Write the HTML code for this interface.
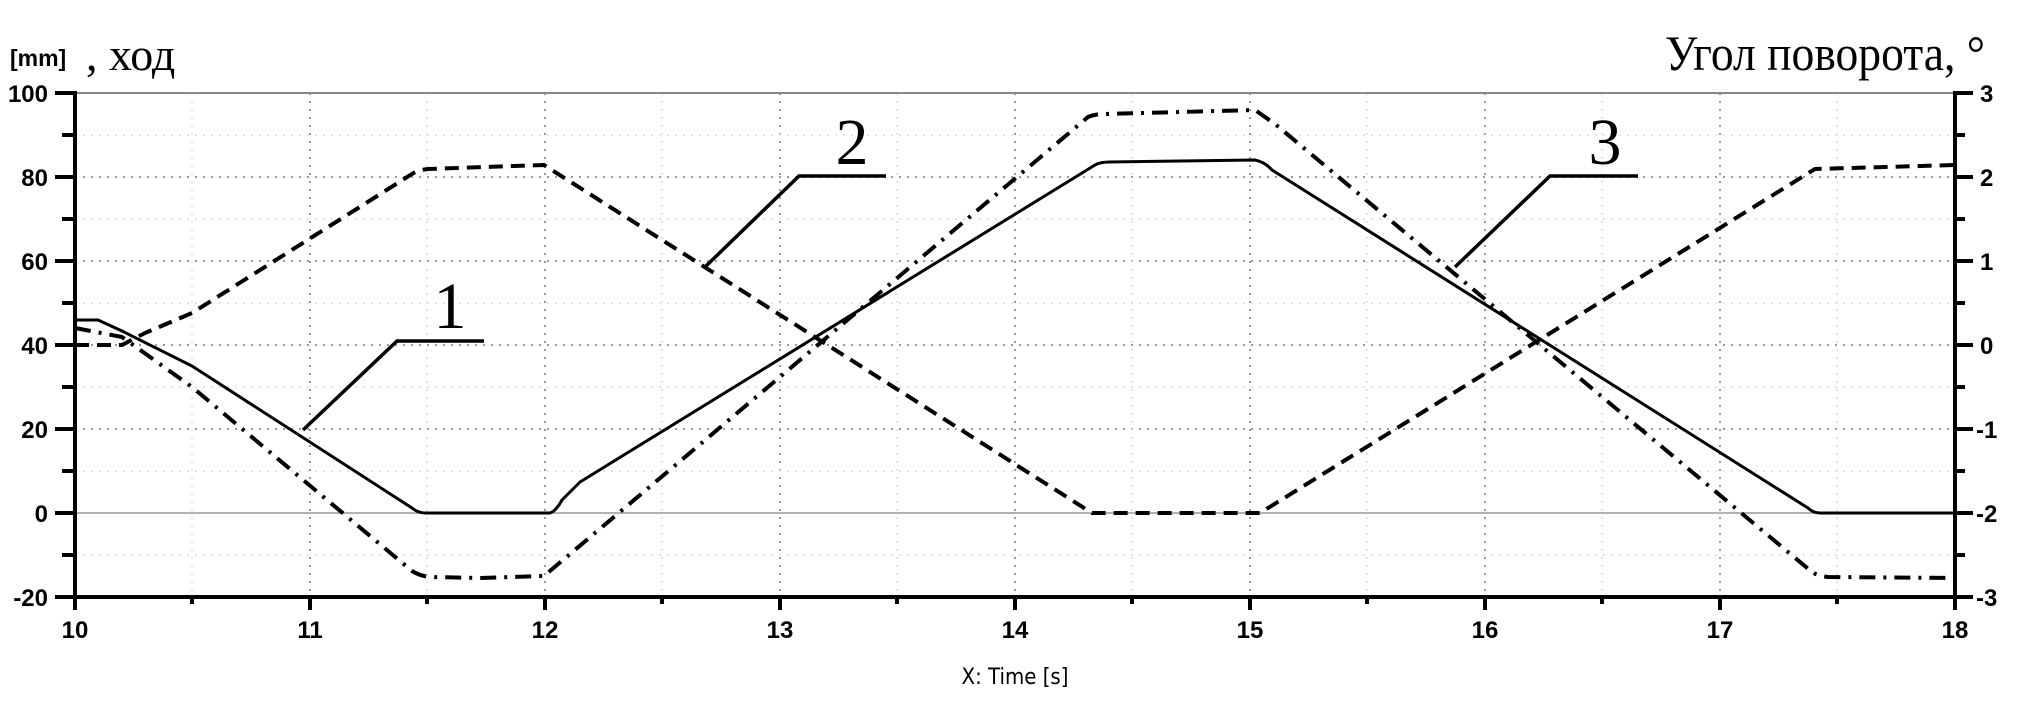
<!DOCTYPE html>
<html><head><meta charset="utf-8"><style>html,body{margin:0;padding:0;background:#fff;}svg{display:block}</style></head>
<body>
<svg width="2020" height="702" xmlns="http://www.w3.org/2000/svg">
<g stroke="#999" stroke-width="2" stroke-dasharray="2,6">
<line x1="75" y1="177" x2="1955" y2="177"/><line x1="75" y1="261" x2="1955" y2="261"/><line x1="75" y1="345" x2="1955" y2="345"/><line x1="75" y1="429" x2="1955" y2="429"/>
<line x1="310" y1="93" x2="310" y2="597"/><line x1="545" y1="93" x2="545" y2="597"/><line x1="780" y1="93" x2="780" y2="597"/><line x1="1015" y1="93" x2="1015" y2="597"/><line x1="1250" y1="93" x2="1250" y2="597"/><line x1="1485" y1="93" x2="1485" y2="597"/><line x1="1720" y1="93" x2="1720" y2="597"/>
</g>
<g stroke="#e4e4e4" stroke-width="2" stroke-dasharray="2,6">
<line x1="75" y1="135" x2="1955" y2="135"/><line x1="75" y1="219" x2="1955" y2="219"/><line x1="75" y1="303" x2="1955" y2="303"/><line x1="75" y1="387" x2="1955" y2="387"/><line x1="75" y1="471" x2="1955" y2="471"/><line x1="75" y1="555" x2="1955" y2="555"/>
<line x1="192" y1="93" x2="192" y2="597"/><line x1="427" y1="93" x2="427" y2="597"/><line x1="662" y1="93" x2="662" y2="597"/><line x1="897" y1="93" x2="897" y2="597"/><line x1="1132" y1="93" x2="1132" y2="597"/><line x1="1367" y1="93" x2="1367" y2="597"/><line x1="1602" y1="93" x2="1602" y2="597"/><line x1="1837" y1="93" x2="1837" y2="597"/>
</g>
<line x1="75" y1="93" x2="1955" y2="93" stroke="#888" stroke-width="2"/>
<line x1="75" y1="513" x2="1955" y2="513" stroke="#999" stroke-width="1.5"/>
<g stroke="#000" stroke-width="4" fill="none">
<line x1="75" y1="91" x2="75" y2="599"/><line x1="1955" y1="91" x2="1955" y2="610"/><line x1="73" y1="597" x2="1957" y2="597"/>
<path d="M55 93H75M62 135H75M55 177H75M62 219H75M55 261H75M62 303H75M55 345H75M62 387H75M55 429H75M62 471H75M55 513H75M62 555H75M55 597H75"/>
<path d="M1955 93H1973M1955 135H1965M1955 177H1973M1955 219H1965M1955 261H1973M1955 303H1965M1955 345H1973M1955 387H1965M1955 429H1973M1955 471H1965M1955 513H1973M1955 555H1965M1955 597H1973"/>
<path d="M75 597V610M192 597V604M310 597V610M427 597V604M545 597V610M662 597V604M780 597V610M897 597V604M1015 597V610M1132 597V604M1250 597V610M1367 597V604M1485 597V610M1602 597V604M1720 597V610M1837 597V604"/>
</g>
<g font-family="Liberation Sans, sans-serif" font-weight="bold" font-size="24" fill="#000">
<g text-anchor="end"><text x="48" y="102">100</text><text x="48" y="186">80</text><text x="48" y="270">60</text><text x="48" y="354">40</text><text x="48" y="438">20</text><text x="48" y="522">0</text><text x="48" y="606">-20</text></g>
<g text-anchor="start"><text x="1980" y="102">3</text><text x="1980" y="186">2</text><text x="1980" y="270">1</text><text x="1980" y="354">0</text><text x="1976" y="438">-1</text><text x="1976" y="522">-2</text><text x="1976" y="606">-3</text></g>
<g text-anchor="middle"><text x="75" y="638">10</text><text x="310" y="638">11</text><text x="545" y="638">12</text><text x="780" y="638">13</text><text x="1015" y="638">14</text><text x="1250" y="638">15</text><text x="1485" y="638">16</text><text x="1720" y="638">17</text><text x="1955" y="638">18</text></g>
<text x="10" y="66" font-size="23">[mm]</text>
</g>
<text x="1015" y="684" text-anchor="middle" font-family="DejaVu Sans Condensed, Liberation Sans, sans-serif" font-size="22">X: Time [s]</text>
<text x="86" y="70" font-family="Liberation Serif, serif" font-size="46">, ход</text>
<text x="1665" y="70" font-family="Liberation Serif, serif" font-size="50" textLength="320" lengthAdjust="spacingAndGlyphs">Угол поворота, °</text>
<g font-family="Liberation Serif, serif" font-size="66" text-anchor="middle">
<text x="450" y="328">1</text><text x="852" y="164">2</text><text x="1605" y="164">3</text>
</g>
<g stroke="#000" stroke-width="3.5" fill="none">
<path d="M303 430L397 341H484"/><path d="M705 267L799 176H886"/><path d="M1455 267L1550 176H1638"/>
</g>
<g fill="none" stroke="#000" stroke-width="3">
<path d="M75 320L98 320L122 331L192 366L412 508Q418 513 425 513L550 513Q556 511 562 500L580 482L1095 165Q1100 162 1110 162L1255 160Q1265 162 1272 170L1808 508Q1813 513 1820 513L1955 513"/>
<path stroke-width="4" stroke-dasharray="14,8" d="M75 345L122 345L145 333L192 313L412 174Q418 170 428 169L544 165L1092 513L1260 513L1815 169L1955 165"/>
<path stroke-width="4" stroke-dasharray="16,8,3,8" d="M75 328L122 337L192 387L412 571Q420 576 430 577L480 578L544 576L1088 117Q1095 114 1105 114L1255 110L1275 124L1812 572Q1818 576 1828 577L1955 578"/>
</g>
</svg>
</body></html>
